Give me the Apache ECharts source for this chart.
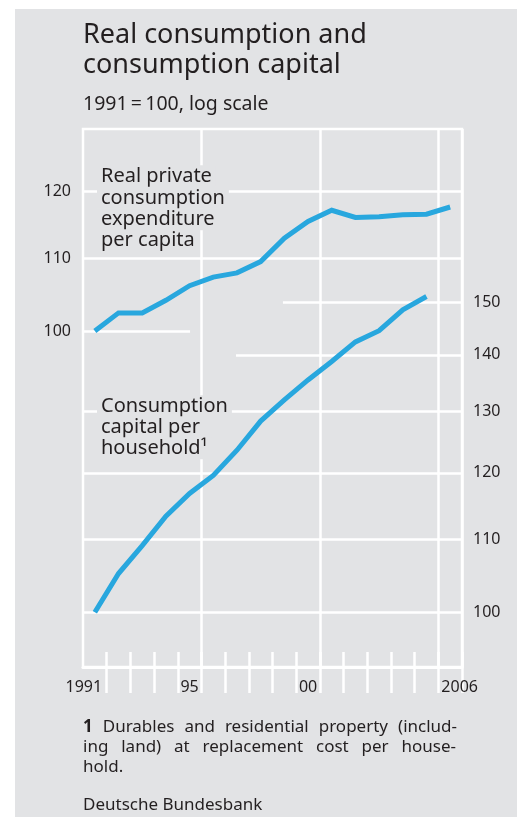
<!DOCTYPE html>
<html>
<head>
<meta charset="utf-8">
<script src="https://cdn.jsdelivr.net/npm/echarts@6/dist/echarts.min.js"></script>
<style>
  html, body { margin: 0; padding: 0; background: #fff; }
  #wrap { position: relative; width: 517px; height: 817px; overflow: hidden; }
  #panel { position: absolute; left: 15px; top: 9px; right: 0; bottom: 0; background: #e2e3e5; }
  #main { position: absolute; left: 0; top: 0; width: 517px; height: 817px; }
</style>
</head>
<body>
<div id="wrap">
  <div id="panel"></div>
  <div id="main"></div>
</div>
<script>
  // data, 1991 = 100
  const years = [1991, 1992, 1993, 1994, 1995, 1996, 1997, 1998, 1999, 2000, 2001, 2002, 2003, 2004, 2005, 2006]
  const realConsumption = [100, 102.4, 102.4, 104.1, 106.1, 107.3, 107.9, 109.5, 112.9, 115.4, 117.1, 116.0, 116.1, 116.4, 116.5, 117.6]
  const consumptionCapital = [100, 105.2, 109.1, 113.4, 116.8, 119.6, 123.6, 128.4, 132.0, 135.5, 138.8, 142.4, 144.5, 148.5, 151.1, null]

  const leftTicks = [100, 110, 120]
  const rightTicks = [100, 110, 120, 130, 140, 150]
  const xLabelYears = [1991, 1995, 2000, 2006]
  const xLabelText = ['1991', '95', '00', '2006']

  const BG = '#e2e3e5'
  const INK = '#231f20'
  const BLUE = '#28a7de'
  const WHITE = '#ffffff'
  const FONT = '"Noto Sans", sans-serif'

  // log scale: plot ln(value) on a linear axis
  const ln = Math.log
  const toPairs = (arr) => years.map((y, i) => [y, arr[i] == null ? null : ln(arr[i])]).filter(p => p[1] !== null)

  // partial gridlines (x extent in years)
  function gridLines(ticks, from, to) {
    return ticks.map(v => [
      {coord: [from[v] || 1990.5, ln(v)]},
      {coord: [to[v] || 2006.5, ln(v)]}
    ])
  }

  function txt(str, x, baseline, size, extra) {
    return {
      type: 'text', x: x, y: baseline - 0.285 * size, z: 100,
      style: Object.assign({
        text: str, fontSize: size, fontFamily: FONT, fill: INK,
        align: 'left', verticalAlign: 'middle', textAlign: 'left', textVerticalAlign: 'middle'
      }, extra || {})
    }
  }

  // label boxes hide the gridlines behind them
  function boxed(str, x, baseline, size) {
    return txt(str, x - 4, baseline, size, {backgroundColor: BG, padding: [1, 4, 1, 4]})
  }

  // justify words between x0 and x1
  const ctx = document.createElement('canvas').getContext('2d')
  function justify(words, x0, x1, baseline, size, boldFirst) {
    const widths = words.map((w, i) => {
      ctx.font = ((boldFirst && i === 0) ? 'bold ' : '') + size + 'px ' + FONT
      return ctx.measureText(w).width
    })
    const sum = widths.reduce((a, b) => a + b, 0)
    const gap = (x1 - x0 - sum) / (words.length - 1)
    let x = x0
    return words.map((w, i) => {
      const el = txt(w, x, baseline, size, (boldFirst && i === 0) ? {fontWeight: 'bold'} : {})
      x += widths[i] + gap
      return el
    })
  }

  const graphics = [
    txt('Real consumption and', 83, 43, 27),
    txt('consumption capital', 83, 73, 27),
    txt('1991\u2009=\u2009100, log scale', 83, 110, 19.5),

    boxed('Real private', 101, 182, 20),
    boxed('consumption', 101, 203.5, 20),
    boxed('expenditure', 101, 225, 20),
    boxed('per capita', 101, 246, 20),

    boxed('Consumption', 101, 412, 20),
    boxed('capital per', 101, 433, 20),
    boxed('household\u00B9', 101, 454, 20),

    ...justify(['1', 'Durables', 'and', 'residential', 'property', '(includ-'], 83, 457, 732, 17, true),
    ...justify(['ing', 'land)', 'at', 'replacement', 'cost', 'per', 'house-'], 83, 456, 752, 17, false),
    txt('hold.', 83, 772, 17),
    txt('Deutsche Bundesbank', 83, 810, 17)
  ]

  const labelStyle = {color: INK, fontSize: 16, fontFamily: FONT}

  const option = {
    backgroundColor: 'transparent',
    animation: false,
    grid: {
      left: 83, right: 55, top: 129, bottom: 150,
      show: true, borderColor: WHITE, borderWidth: 2.5, backgroundColor: 'transparent'
    },
    xAxis: [
      {
        type: 'category', data: years, boundaryGap: true, position: 'bottom',
        axisLine: {show: true, lineStyle: {color: WHITE, width: 3}},
        axisTick: {show: true, inside: true, length: 15, interval: (i) => i > 0, lineStyle: {color: WHITE, width: 2.5}},
        axisLabel: Object.assign({
          interval: (i) => xLabelYears.indexOf(years[i]) >= 0,
          margin: 12,
          formatter: (v) => {
            const k = xLabelYears.indexOf(Number(v))
            if (k === 0) return '{l|' + xLabelText[k] + '}'
            if (k === xLabelYears.length - 1) return '{r|' + xLabelText[k] + '}'
            return xLabelText[k]
          },
          rich: {
            l: Object.assign({padding: [0, 22, 0, 0]}, labelStyle),
            r: Object.assign({padding: [0, 0, 0, 19]}, labelStyle)
          }
        }, labelStyle),
        splitLine: {show: true, interval: (i) => i > 0 && i % 5 === 0, lineStyle: {color: WHITE, width: 2.5}}
      },
      {
        type: 'category', data: years, boundaryGap: true, position: 'bottom',
        axisLine: {show: false},
        axisTick: {show: true, inside: false, length: 26, interval: (i) => i > 0, lineStyle: {color: WHITE, width: 2.5}},
        axisLabel: {show: false},
        splitLine: {show: false}
      },
      {type: 'value', min: 1990.5, max: 2006.5, show: false, splitLine: {show: false}}
    ],
    yAxis: [
      {
        type: 'value', position: 'left', min: ln(64.46), max: ln(130.22),
        axisLine: {show: false}, axisTick: {show: false}, splitLine: {show: false},
        axisLabel: Object.assign({
          customValues: leftTicks.map(ln), margin: 12,
          formatter: (v) => String(Math.round(Math.exp(v)))
        }, labelStyle)
      },
      {
        type: 'value', position: 'right', min: ln(93.1), max: ln(188.1),
        axisLine: {show: false}, axisTick: {show: false}, splitLine: {show: false},
        axisLabel: Object.assign({
          customValues: rightTicks.map(ln), margin: 11,
          formatter: (v) => String(Math.round(Math.exp(v)))
        }, labelStyle)
      }
    ],
    series: [
      {
        name: 'Real private consumption expenditure per capita',
        type: 'line', xAxisIndex: 2, yAxisIndex: 0, z: 3,
        data: toPairs(realConsumption),
        symbol: 'none', smooth: false,
        lineStyle: {color: BLUE, width: 5, cap: 'butt', join: 'miter'},
        markLine: {
          silent: true, z: 1, symbol: ['none', 'none'], label: {show: false},
          lineStyle: {color: WHITE, width: 2.5, type: 'solid'},
          emphasis: {disabled: true},
          data: gridLines(leftTicks, {}, {100: 1995.02})
        }
      },
      {
        name: 'Consumption capital per household',
        type: 'line', xAxisIndex: 2, yAxisIndex: 1, z: 3,
        data: toPairs(consumptionCapital),
        symbol: 'none', smooth: false,
        lineStyle: {color: BLUE, width: 5, cap: 'butt', join: 'miter'},
        markLine: {
          silent: true, z: 1, symbol: ['none', 'none'], label: {show: false},
          lineStyle: {color: WHITE, width: 2.5, type: 'solid'},
          emphasis: {disabled: true},
          data: gridLines(rightTicks, {140: 1996.96, 150: 1998.94}, {})
        }
      }
    ],
    graphic: graphics
  }

  const myChart = echarts.init(document.getElementById('main'), null, {renderer: 'canvas'})
  myChart.setOption(option)
</script>
</body>
</html>
